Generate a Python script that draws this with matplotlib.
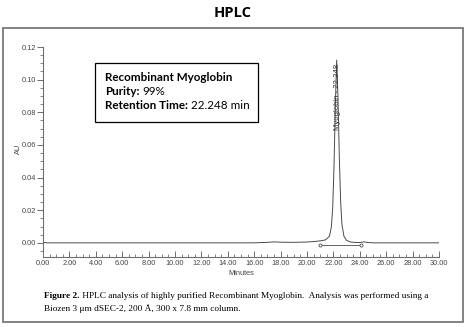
import matplotlib
matplotlib.use('Agg')
import matplotlib.pyplot as plt
from matplotlib.patches import Rectangle
from matplotlib.ticker import MultipleLocator, FormatStrFormatter

# chromatogram trace, read point by point (minutes, AU)
minutes = [0.0, 0.3, 2.0, 4.0, 6.0, 8.0, 10.0, 12.0, 14.0, 16.0, 17.0, 17.5, 18.0,
           19.0, 20.0, 20.5, 21.0, 21.4, 21.7, 21.85, 21.95, 22.05, 22.15, 22.248,
           22.35, 22.45, 22.55, 22.65, 22.8, 23.0, 23.3, 23.7, 24.0, 24.3, 24.6,
           25.0, 26.0, 28.0, 30.0]
au = [0.0003, 0.0, 0.0, 0.0, 0.0, 0.0, 0.0, 0.0, 0.0, 0.0, 0.0003, 0.0006, 0.0004,
      0.0003, 0.0005, 0.0008, 0.0012, 0.0018, 0.004, 0.010, 0.022, 0.048, 0.085, 0.112,
      0.088, 0.052, 0.025, 0.011, 0.004, 0.0015, 0.0005, 0.0002, 0.0002, 0.0006, 0.0002,
      0.0, 0.0, 0.0, 0.0]

# integration start / end points
int_times = [21.0, 24.1]
int_au = [-0.0016, -0.0016]

peak_name = 'Myoglobin'
peak_rt = 22.248
purity = '99%'

W, H = 466, 327
fig = plt.figure(figsize=(W / 100, H / 100), dpi=100)

def fx(px):
    return px / W

def fy(py):
    return 1 - py / H

# outer frame
fig.patches.append(Rectangle((fx(3), fy(322)), fx(460), (322 - 28) / H,
                             transform=fig.transFigure, fill=False,
                             edgecolor='#7a7a7a', linewidth=1.3))

fig.text(0.5, fy(13), 'HPLC', ha='center', va='center', fontsize=10.5,
         fontweight='bold', family='Open Sans')

ax = fig.add_axes([fx(43), fy(251), fx(439) - fx(43), fy(47) - fy(251)])
gray = '#6e6e6e'
ax.plot(minutes, au, color='#4a4a4a', linewidth=0.7)
ax.plot(int_times, int_au, color='#4a4a4a', linewidth=0.6, marker='o',
        markersize=2.2, markerfacecolor='white', markeredgewidth=0.6)

ax.set_xlim(0, 30)
ax.set_ylim(-0.005, 0.12)
for s in ['top', 'right']:
    ax.spines[s].set_visible(False)
for s in ['left', 'bottom']:
    ax.spines[s].set_color(gray)
    ax.spines[s].set_linewidth(0.8)
ax.spines['bottom'].set_position(('outward', 4.5))

ax.xaxis.set_major_locator(MultipleLocator(2))
ax.xaxis.set_minor_locator(MultipleLocator(0.5))
ax.xaxis.set_major_formatter(FormatStrFormatter('%.2f'))
ax.yaxis.set_major_locator(MultipleLocator(0.02))
ax.yaxis.set_minor_locator(MultipleLocator(0.005))
ax.yaxis.set_major_formatter(FormatStrFormatter('%.2f'))
ax.tick_params(axis='x', which='both', direction='in', colors=gray,
               labelsize=5.3, pad=2)
ax.tick_params(axis='x', which='major', length=4, width=0.7)
ax.tick_params(axis='x', which='minor', length=2.5, width=0.6)
ax.tick_params(axis='y', which='both', direction='out', colors=gray,
               labelsize=5.3, pad=1)
ax.tick_params(axis='y', which='major', length=4, width=0.7)
ax.tick_params(axis='y', which='minor', length=2, width=0.6)
for lab in ax.get_xticklabels() + ax.get_yticklabels():
    lab.set_family('Liberation Sans')
    lab.set_color('#444444')

ax.set_xlabel('Minutes', fontsize=5.3, color='#444444', family='Liberation Sans',
              labelpad=2)
ax.set_ylabel('AU', fontsize=5.3, color='#444444', family='Liberation Sans',
              labelpad=0)

ax.text(peak_rt + 0.05, 0.069, '%s - %.3f' % (peak_name, peak_rt), rotation=90,
        ha='center', va='bottom', fontsize=5.6, color='#333333',
        family='Liberation Sans')

fig.canvas.draw()
renderer = fig.canvas.get_renderer()

def mixed_line(x, y, parts, gap=0, **kw):
    # draw a line of text made of (string, weight) pieces side by side
    for s, w in parts:
        t = fig.text(x, y, s, fontweight=w, va='baseline', ha='left', **kw)
        bb = t.get_window_extent(renderer)
        x += (bb.width + gap) / W

# info box
fig.patches.append(Rectangle((fx(95), fy(122)), fx(258) - fx(95), (122 - 63) / H,
                             transform=fig.transFigure, fill=True,
                             facecolor='white', edgecolor='black', linewidth=0.9,
                             zorder=5))
box_kw = dict(fontsize=8.4, family='Lato', color='black', zorder=6)
mixed_line(fx(105), fy(81), [('Recombinant Myoglobin', 'bold')], **box_kw)
mixed_line(fx(105), fy(95), [('Purity:', 'bold'), (purity, 'normal')], gap=3,
           **box_kw)
mixed_line(fx(105), fy(109), [('Retention Time:', 'bold'),
                              ('%.3f min' % peak_rt, 'normal')], gap=3, **box_kw)

cap_kw = dict(fontsize=6.7, family='Liberation Serif', color='black')
mixed_line(fx(44), fy(298), [('Figure 2.', 'bold'),
                             (' HPLC analysis of highly purified Recombinant Myoglobin.  '
                              'Analysis was performed using a', 'normal')], **cap_kw)
mixed_line(fx(44), fy(311), [('Biozen 3 \u03bcm dSEC-2, 200 \u00c5, 300 x 7.8 mm column.',
                              'normal')], **cap_kw)

fig.savefig('out.png', dpi=100)
